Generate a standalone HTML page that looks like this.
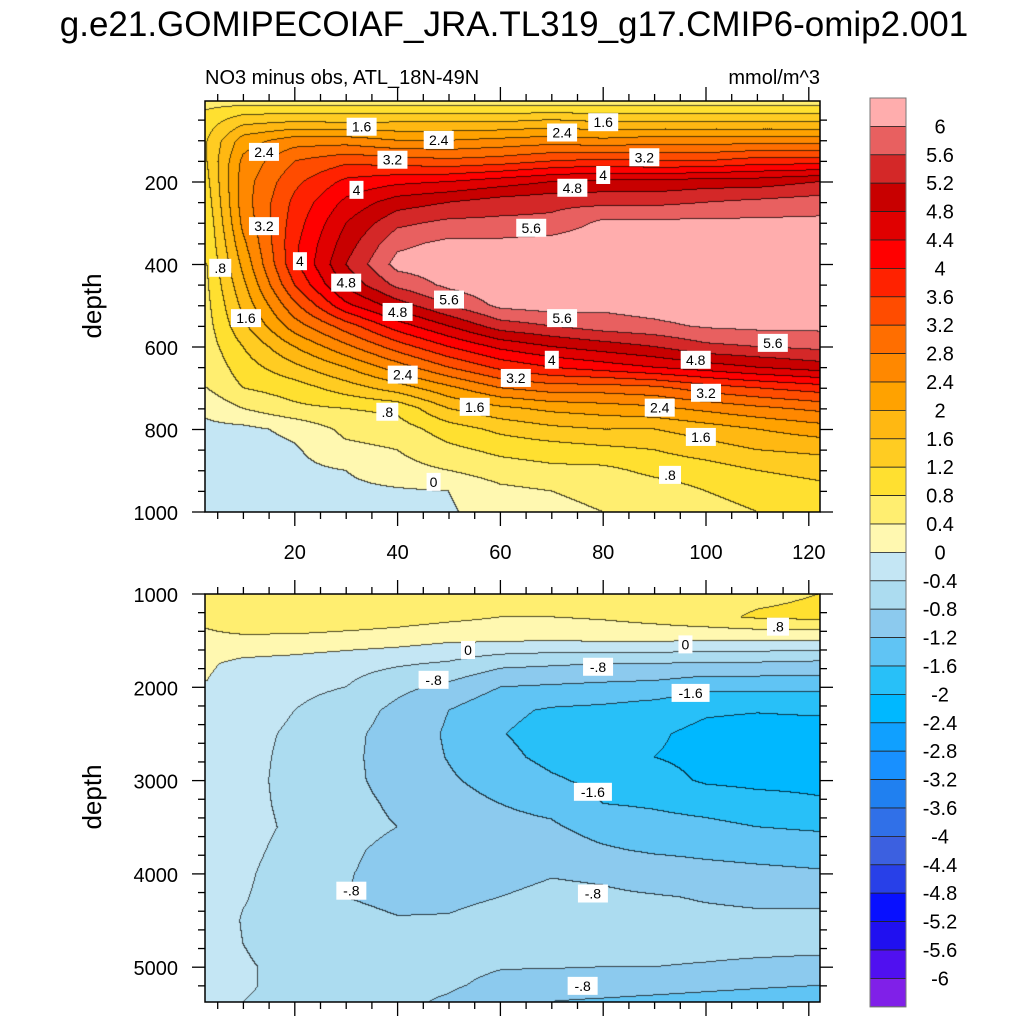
<!DOCTYPE html>
<html><head><meta charset="utf-8">
<style>
body{margin:0;background:#fff;width:1024px;height:1024px;overflow:hidden;font-family:"Liberation Sans",sans-serif;}
#wrap{position:relative;width:1024px;height:1024px;}
canvas{position:absolute;left:0;top:0;}
svg{position:absolute;left:0;top:0;}
</style></head>
<body>
<div id="wrap">
<canvas id="cv" width="1024" height="1024"></canvas>
<svg id="sv" width="1024" height="1024">
<text x="514" y="36" text-anchor="middle" font-size="35">g.e21.GOMIPECOIAF_JRA.TL319_g17.CMIP6-omip2.001</text>
<text x="205" y="84" font-size="20">NO3 minus obs, ATL_18N-49N</text>
<text x="820" y="84" text-anchor="end" font-size="20">mmol/m^3</text>
<text transform="translate(101,306) rotate(-90)" text-anchor="middle" font-size="26">depth</text>
<text transform="translate(101,797) rotate(-90)" text-anchor="middle" font-size="26">depth</text>
<g id="axes"></g>
<g id="labels"></g>
<g id="cbar"></g>
</svg>
</div>
<script>
// ---- data ----
const xCols=[3,10,20,30,40,50,60,70,80,90,100,110,122];
const topDepths=[5,25,50,100,150,200,250,300,350,400,450,500,550,600,650,700,750,800,850,900,950,1000];
const topC0=[0.6,0.8,1.0,1.2,1.2,1.1,1.0,0.9,0.85,0.8,0.75,0.7,0.65,0.6,0.5,0.4,0.1,-0.1,-0.2,-0.3,-0.3,-0.3];
const topC1=[0.6,1.0,1.4,2.2,2.5,2.6,2.6,2.5,2.3,2.1,1.9,1.7,1.5,1.2,1.0,0.8,0.4,-0.1,-0.2,-0.2,-0.3,-0.3];
const topC2=[0.6,1.0,1.5,2.6,3.2,3.5,3.7,3.8,3.9,3.9,3.6,3.1,2.6,2.0,1.5,1.0,0.7,0.1,-0.05,-0.1,-0.15,-0.2];
const topC3=[0.6,1.0,1.45,2.6,3.5,4.1,4.5,4.8,5.0,5.2,4.9,4.3,3.4,2.7,2.0,1.4,0.8,0.5,0.3,0.0,-0.1,-0.15];
const topC4=[0.6,1.0,1.5,2.4,3.4,4.3,5.0,5.5,5.9,6.15,5.7,5.0,4.2,3.4,2.6,1.8,0.9,0.6,0.4,0.25,-0.05,-0.15];
const topC5=[0.6,1.0,1.5,2.4,3.3,4.4,5.2,5.7,6.1,6.25,6.1,5.6,4.8,4.0,3.2,2.3,1.6,1.0,0.7,0.4,0.0,-0.05];
const topC6=[0.6,1.0,1.5,2.5,3.4,4.6,5.4,5.7,6.1,6.3,6.3,6.1,5.4,4.5,3.7,2.8,1.9,1.3,0.9,0.6,0.3,0.2];
const topC7=[0.6,1.0,1.6,2.6,3.6,4.8,5.5,5.7,6.2,6.3,6.3,6.2,5.6,4.8,4.0,3.0,2.1,1.5,1.0,0.7,0.4,0.3];
const topC8=[0.6,1.0,1.5,2.5,3.7,4.9,5.5,6.1,6.3,6.3,6.3,6.1,5.8,5.0,4.2,3.0,2.2,1.6,1.1,0.7,0.5,0.4];
const topC9=[0.6,1.0,1.5,2.6,3.6,4.9,5.5,6.1,6.3,6.3,6.3,6.2,5.9,5.2,4.4,3.1,2.3,1.6,1.2,0.9,0.6,0.5];
const topC10=[0.6,1.0,1.5,2.6,3.6,5.0,5.6,6.1,6.3,6.3,6.3,6.3,6.05,5.5,4.6,3.4,2.5,1.8,1.4,1.0,0.8,0.6];
const topC11=[0.6,1.0,1.5,2.6,3.8,5.0,5.7,6.1,6.3,6.3,6.3,6.3,6.1,5.6,4.8,3.6,2.7,2.0,1.6,1.2,1.0,0.8];
const topC12=[0.6,1.0,1.5,2.6,3.8,5.2,5.8,6.1,6.3,6.3,6.3,6.3,6.1,5.7,5.0,3.8,2.9,2.2,1.7,1.3,1.1,0.9];
const botDepths=[1000,1250,1500,1750,2000,2250,2500,2750,3000,3250,3500,3750,4000,4250,4500,4750,5000,5200,5370];
const botC0=[0.5,0.5,0.3,0.05,-0.02,-0.1,-0.15,-0.15,-0.15,-0.1,-0.15,-0.2,-0.2,-0.2,-0.2,-0.2,-0.2,-0.2,-0.2];
const botC1=[0.6,0.7,0.3,-0.1,-0.2,-0.25,-0.3,-0.3,-0.3,-0.3,-0.3,-0.32,-0.35,-0.38,-0.42,-0.4,-0.38,-0.38,-0.4];
const botC2=[0.6,0.8,0.25,-0.15,-0.3,-0.4,-0.45,-0.48,-0.5,-0.48,-0.45,-0.5,-0.55,-0.55,-0.5,-0.48,-0.45,-0.45,-0.45];
const botC3=[0.6,0.7,0.2,-0.25,-0.4,-0.6,-0.7,-0.72,-0.72,-0.7,-0.7,-0.75,-0.78,-0.8,-0.7,-0.6,-0.55,-0.55,-0.6];
const botC4=[0.5,0.6,0.15,-0.35,-0.7,-0.9,-0.95,-0.95,-0.92,-0.85,-0.8,-0.88,-0.9,-0.88,-0.78,-0.68,-0.65,-0.68,-0.72];
const botC5=[0.5,0.5,0.05,-0.45,-0.9,-1.2,-1.25,-1.22,-1.15,-1.05,-1.0,-0.95,-0.9,-0.85,-0.78,-0.7,-0.7,-0.75,-0.85];
const botC6=[0.4,0.4,0.05,-0.7,-1.2,-1.5,-1.58,-1.5,-1.35,-1.2,-1.1,-1.0,-0.9,-0.8,-0.72,-0.7,-0.78,-0.9,-1.1];
const botC7=[0.5,0.4,0.0,-0.75,-1.25,-1.65,-1.75,-1.7,-1.55,-1.3,-1.15,-1.0,-0.82,-0.72,-0.7,-0.7,-0.78,-1.0,-1.2];
const botC8=[0.5,0.45,0.05,-0.8,-1.3,-1.7,-1.85,-1.8,-1.7,-1.6,-1.35,-1.15,-0.85,-0.75,-0.7,-0.7,-0.8,-1.0,-1.25];
const botC9=[0.6,0.55,0.05,-0.8,-1.35,-1.8,-1.95,-2.0,-1.85,-1.65,-1.45,-1.25,-0.95,-0.78,-0.72,-0.72,-0.8,-1.05,-1.3];
const botC10=[0.6,0.7,0.0,-0.85,-1.5,-1.95,-2.1,-2.1,-2.05,-1.75,-1.5,-1.3,-1.05,-0.82,-0.74,-0.72,-0.82,-1.1,-1.35];
const botC11=[0.7,0.85,0.0,-0.85,-1.5,-1.98,-2.15,-2.15,-2.1,-1.85,-1.6,-1.35,-1.1,-0.85,-0.75,-0.72,-0.85,-1.15,-1.4];
const botC12=[0.8,0.9,0.0,-0.9,-1.5,-1.95,-2.15,-2.15,-2.1,-1.95,-1.65,-1.4,-1.15,-0.85,-0.75,-0.72,-0.88,-1.2,-1.45];
const levelLabels=["6","5.6","5.2","4.8","4.4","4","3.6","3.2","2.8","2.4","2","1.6","1.2","0.8","0.4","0","-0.4","-0.8","-1.2","-1.6","-2","-2.4","-2.8","-3.2","-3.6","-4","-4.4","-4.8","-5.2","-5.6","-6"];
const levelColors=["#ffadad","#e86060","#d42828","#c80000","#e00000","#ff0000","#ff2200","#ff4c00","#ff6e00","#ff8800","#ffa200","#ffb812","#ffcc22","#ffe030","#ffee70","#fff8b0","#c4e6f4","#acdcf0","#8ccaee","#60c4f4","#28c0f8","#00b8ff","#10a0ff","#1890ff","#2080f0","#3070e8","#3c60e0","#2840e8","#0810ff","#2010f0","#5010f0","#8020e8"];
const topLabels=[[33,66,"1.6"],[14,127,"2.4"],[39,146,"3.2"],[48,98,"2.4"],[32,219,"4"],[72,80,"2.4"],[80,55,"1.6"],[88,140,"3.2"],[80,183,"4"],[74,214,"4.8"],[66,311,"5.6"],[14,307,"3.2"],[5.5,408,".8"],[21,392,"4"],[30,444,"4.8"],[40,515,"4.8"],[50,485,"5.6"],[72,530,"5.6"],[113,590,"5.6"],[98,631,"4.8"],[70,631,"4"],[63,675,"3.2"],[100,711,"3.2"],[41,667,"2.4"],[91,747,"2.4"],[10.5,530,"1.6"],[55,745,"1.6"],[99,818,"1.6"],[38,757,".8"],[93,910,".8"],[47,927,"0"]];
const botLabels=[[53.7,1600,"0"],[96,1540,"0"],[114,1350,".8"],[47,1920,"-.8"],[79,1780,"-.8"],[97,2060,"-1.6"],[78,3120,"-1.6"],[31,4180,"-.8"],[78,4210,"-.8"],[76,5200,"-.8"]];
const xTickVals=[20,40,60,80,100,120];

// ---- geometry ----
const X0=205,X1=820;
const xs=v=>192+(v)*5.14;
const topY=d=>99.5+d*0.4125;
const botY=d=>594+(d-1000)*0.0933;
const topCols=[topC0,topC1,topC2,topC3,topC4,topC5,topC6,topC7,topC8,topC9,topC10,topC11,topC12];
const botCols=[botC0,botC1,botC2,botC3,botC4,botC5,botC6,botC7,botC8,botC9,botC10,botC11,botC12];
function seg(arr,v){let i=0;while(i<arr.length-2&&v>arr[i+1])i++;let t=(v-arr[i])/(arr[i+1]-arr[i]);t=Math.max(0,Math.min(1,t));return [i,t];}
function sample(cols,depths,x,d){const [i,tx]=seg(xCols,x);const [j,ty]=seg(depths,d);
 const a=cols[i][j],b=cols[i+1][j],c=cols[i][j+1],e=cols[i+1][j+1];
 return (a*(1-tx)+b*tx)*(1-ty)+(c*(1-tx)+e*tx)*ty;}
function lev(v){for(let k=0;k<levelLabels.length;k++){if(v>parseFloat(levelLabels[k]))return k;} return levelLabels.length;}
function hex(h){return [parseInt(h.substr(1,2),16),parseInt(h.substr(3,2),16),parseInt(h.substr(5,2),16)];}
const rgb=levelColors.map(hex);
const cv=document.getElementById('cv'),ctx=cv.getContext('2d');
const img=ctx.createImageData(1024,1024);
function panel(cols,depths,yTop,yBot,d0,d1){
 const W=X1-X0,H=yBot-yTop;const L=[];
 for(let py=0;py<H;py++){const row=[];const d=d0+(d1-d0)*(py+0.5)/H;
  for(let px=0;px<W;px++){const x=(X0+px+0.5-192)/5.14;row.push(lev(sample(cols,depths,x,d)));}L.push(row);}
 for(let py=0;py<H;py++)for(let px=0;px<W;px++){
  const k=L[py][px];let c=rgb[k];
  const edge=(px+1<W&&L[py][px+1]!==k)||(py+1<H&&L[py+1][px]!==k);
  const o=((yTop+py)*1024+X0+px)*4;
  if(edge){img.data[o]=c[0]*0.3;img.data[o+1]=c[1]*0.3;img.data[o+2]=c[2]*0.3;}
  else{img.data[o]=c[0];img.data[o+1]=c[1];img.data[o+2]=c[2];}
  img.data[o+3]=255;}
}
panel(topCols,topDepths,101,512,(101-99.5)/0.4125,1000);
panel(botCols,botDepths,594,1002,1000,1000+(1002-594)/0.0933);
ctx.putImageData(img,0,0);

// ---- axes ----
const NS='http://www.w3.org/2000/svg';
const ax=document.getElementById('axes');
function el(tag,attrs,parent){const e=document.createElementNS(NS,tag);for(const k in attrs)e.setAttribute(k,attrs[k]);parent.appendChild(e);return e;}
function line(x1,y1,x2,y2,name){const e=el('line',{x1,y1,x2,y2,stroke:'#000','stroke-width':1.3},ax);
 
 }
[[101,512],[594,1002]].forEach(([t,b],pi)=>{
 const r=el('rect',{x:X0,y:t,width:X1-X0,height:b-t,fill:'none',stroke:'#000','stroke-width':1.5},ax);
 
 
 for(let v=5;v<=120;v+=5){const x=xs(v);const maj=v%20===0;const L=maj?14:7;
  line(x,t,x,t-L,'x-tick');line(x,b,x,b+L,'x-tick');}
});
for(let d=50;d<=1000;d+=50){const y=topY(d);const maj=d%200===0;const L=maj?13:7;line(X0,y,X0-L,y,'y-tick');line(X1,y,X1+L,y,'y-tick');
 if(maj){const t=el('text',{x:178,y:y+8,'text-anchor':'end','font-size':20},ax);t.textContent=d;
  
  }}
for(let d=1000;d<=5370;d+=200){const y=botY(d);const maj=d%1000===0;const L=maj?13:7;line(X0,y,X0-L,y,'y-tick');line(X1,y,X1+L,y,'y-tick');
 if(maj){const t=el('text',{x:178,y:y+8,'text-anchor':'end','font-size':20},ax);t.textContent=d;
  
  }}
xTickVals.forEach(v=>{const t=el('text',{x:xs(v),y:559,'text-anchor':'middle','font-size':20},ax);t.textContent=v;
 
 });

// ---- contour labels ----
const lg=document.getElementById('labels');
function clabel(x,y,s){const w=s.length*8+6;
 const g=el('g',{},lg);
 
 
 el('rect',{x:x-w/2,y:y-9,width:w,height:18,fill:'#fff'},g);
 const t=el('text',{x:x,y:y+5,'text-anchor':'middle','font-size':14},g);t.textContent=s;}
topLabels.forEach(([x,d,s])=>clabel(xs(x),topY(d),s));
botLabels.forEach(([x,d,s])=>clabel(xs(x),botY(d),s));

// ---- colorbar ----
const cb=document.getElementById('cbar');
const cbTop=98,cbH=28.4;
levelColors.forEach((c,i)=>{const r=el('rect',{x:870,y:cbTop+i*cbH,width:36,height:cbH,fill:c,stroke:'#222','stroke-width':0.8},cb);
 
 });
const fr=el('rect',{x:870,y:cbTop,width:36,height:cbH*levelColors.length,fill:'none',stroke:'#777','stroke-width':1},cb);


levelLabels.forEach((s,i)=>{const t=el('text',{x:940,y:cbTop+(i+1)*cbH+7,'text-anchor':'middle','font-size':20},cb);t.textContent=s;
 
 });
</script>
</body></html>
